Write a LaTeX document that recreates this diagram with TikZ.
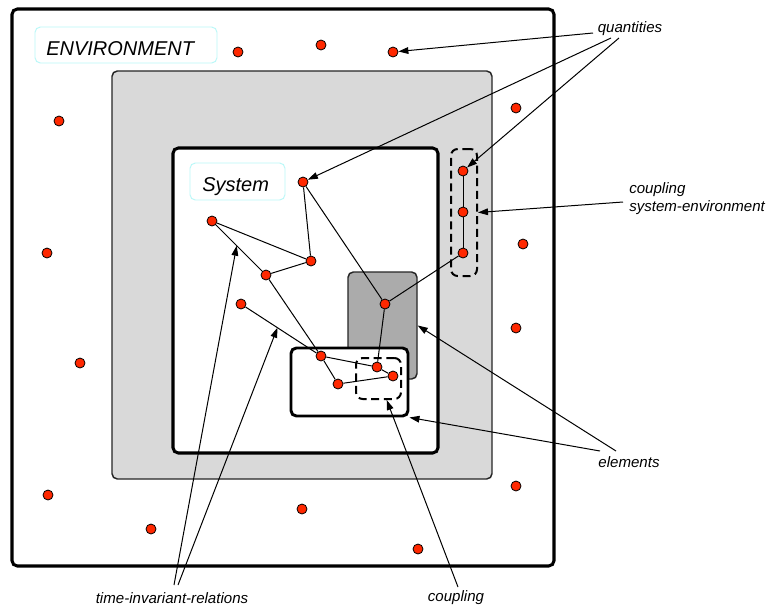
\documentclass[tikz,border=0pt]{standalone}
\usepackage{fontspec}
\setmainfont{Liberation Sans}
\usetikzlibrary{arrows.meta,calc}
\definecolor{dotred}{RGB}{255,40,0}
\definecolor{shellgray}{RGB}{217,217,217}
\definecolor{elemgray}{RGB}{171,171,171}
\definecolor{tagcyan}{RGB}{185,248,248}
\tikzset{
  frame/.style={draw=black,line width=2.3pt,rounded corners=4pt,inner sep=0pt},
  shell/.style={draw=black!85,line width=1.1pt,fill=shellgray,rounded corners=4pt,inner sep=0pt},
  elemdark/.style={draw=black!85,line width=1.1pt,fill=elemgray,rounded corners=4pt,inner sep=0pt},
  elemwhite/.style={draw=black,line width=2.2pt,fill=white,rounded corners=4pt,inner sep=0pt},
  couplebox/.style={draw=black,line width=1.5pt,dash pattern=on 6pt off 3.5pt,rounded corners=5pt,inner sep=0pt},
  tagbox/.style={draw=tagcyan,line width=0.7pt,fill=white,rounded corners=4pt,inner sep=0pt},
  tagtext/.style={font=\itshape\fontsize{15pt}{18pt}\selectfont,inner sep=0pt},
  qty/.style={circle,draw=black,line width=0.6pt,fill=dotred,minimum size=7.5pt,inner sep=0pt},
  rel/.style={line width=0.75pt},
  annot/.style={font=\itshape\fontsize{11.3pt}{13.5pt}\selectfont,inner sep=0pt},
  pointer/.style={line width=0.75pt,-{Triangle[length=7.5pt,width=5pt]}},
}
\begin{document}
\begin{tikzpicture}[x=0.75pt,y=-0.75pt]
\useasboundingbox (0,0) rectangle (769,608);

% environment frame and its tag
\node[frame,fill=white,minimum width=406.5pt,minimum height=417.75pt] (env) at (283,287.5) {};
\node[tagbox,minimum width=136.5pt,minimum height=27pt] (envtag) at (126,45) {};
\node[tagtext,anchor=base west] (envtxt) at (46,55) {ENVIRONMENT};

% coupling shell, system and its tag
\node[shell,minimum width=285pt,minimum height=306pt] (shell) at (302,275) {};
\node[frame,fill=white,minimum width=198.75pt,minimum height=228.75pt] (sys) at (305.5,300.5) {};
\node[tagbox,minimum width=71.25pt,minimum height=27.75pt] (systag) at (237.5,181.5) {};
\node[tagtext,anchor=base west] (systxt) at (202,191) {System};

% elements
\node[elemdark,minimum width=51.75pt,minimum height=80.25pt] (elemA) at (382.5,325.5) {};
\node[elemwhite,minimum width=87.75pt,minimum height=51pt] (elemB) at (349.5,382) {};

% couplings
\node[couplebox,minimum width=33.75pt,minimum height=30.75pt] (cpl) at (378.5,378.5) {};
\node[couplebox,minimum width=19.5pt,minimum height=95.25pt] (cse) at (464,212.5) {};

% quantities of the system
\node[qty] (A) at (303,182) {};
\node[qty] (B) at (212,221) {};
\node[qty] (C) at (311,261) {};
\node[qty] (D) at (266,275) {};
\node[qty] (E) at (241,304) {};
\node[qty] (F) at (385,304) {};
\node[qty] (G) at (321,356) {};
\node[qty] (H) at (377,367) {};
\node[qty] (I) at (393,376) {};
\node[qty] (J) at (338,384) {};
\node[qty] (Q1) at (463,171) {};
\node[qty] (Q2) at (463,212) {};
\node[qty] (Q3) at (463,253) {};

% quantities of the environment
\foreach \n/\p in {e1/{(238,52)},e2/{(321,45)},e3/{(393,52)},e4/{(59,121)},
  e5/{(516,108)},e6/{(47,253)},e7/{(523,244)},e8/{(80,363)},e9/{(516,328)},
  e10/{(48,495)},e11/{(151,529)},e12/{(302,509)},e13/{(516,486)},e14/{(418,549)}}
  \node[qty] (\n) at \p {};

% time-invariant relations
\draw[rel] (A) -- (C);
\draw[rel] (A) -- (F);
\draw[rel] (B) -- (C);
\draw[rel] (B) -- (D);
\draw[rel] (D) -- (C);
\draw[rel] (D) -- (G);
\draw[rel] (E) -- (G);
\draw[rel] (G) -- (H);
\draw[rel] (H) -- (I);
\draw[rel] (G) -- (J);
\draw[rel] (J) -- (I);
\draw[rel] (F) -- (H);
\draw[rel] (F) -- (Q3);
\draw[rel] (Q1) -- (Q2);
\draw[rel] (Q2) -- (Q3);

% annotations
\node[annot] (lq) at (630,29) {quantities};
\node[annot,anchor=north west,align=left] (lcse) at (629,182) {coupling\\system-environment};
\node[annot] (lel) at (629,462) {elements};
\node[annot] (lcp) at (456,598) {coupling};
\node[annot] (ltir) at (172,598) {time-invariant-relations};

\coordinate (qa) at (593,33);
\coordinate (qb) at (611,38);
\coordinate (qc) at (619,38);
\coordinate (csea) at (623,202);
\coordinate (ela) at (600,451);
\coordinate (elb) at (616,451);
\coordinate (cpa) at (458,587);
\coordinate (tra) at (174,585);
\coordinate (trb) at (178,585);
\path (B) -- (D) coordinate[pos=0.45] (r1);
\path (E) -- (G) coordinate[pos=0.45] (r2);

\draw[pointer] (qa) -- (e3);
\draw[pointer] (qb) -- (A);
\draw[pointer] (qc) -- (Q1);
\draw[pointer] (csea) -- (cse.east);
\draw[pointer] (ela) -- (elemB.south east);
\draw[pointer] (elb) -- (elemA.east);
\draw[pointer] (cpa) -- (cpl);
\draw[pointer] (tra) -- (r1);
\draw[pointer] (trb) -- (r2);
\end{tikzpicture}
\end{document}
